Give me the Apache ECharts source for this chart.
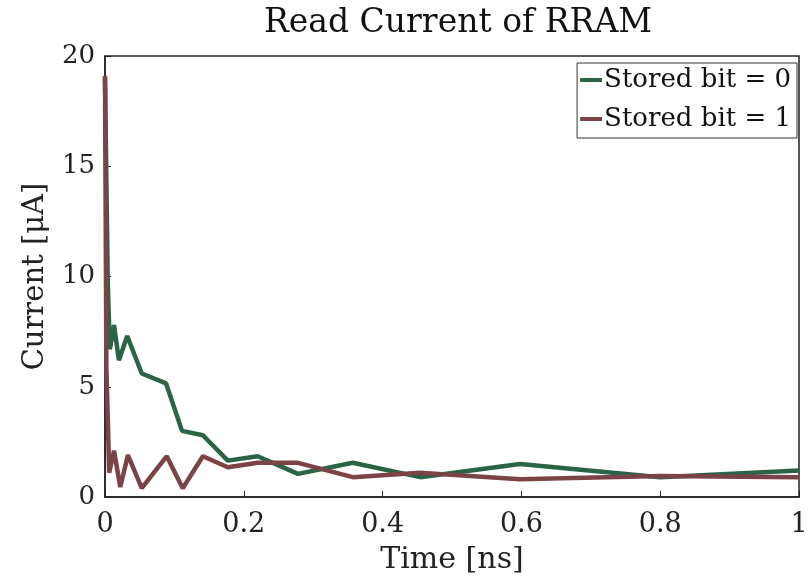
<!DOCTYPE html>
<html lang="en">
<head>
    <meta charset="UTF-8">
    <title>Read Current of RRAM</title>
    <script type="text/javascript" src="https://cdn.jsdelivr.net/npm/echarts@6/dist/echarts.min.js"></script>
    <style>
        html, body { margin: 0; padding: 0; background: #fff; }
        #chart { width: 811px; height: 586px; }
    </style>
</head>
<body>
<div id="chart"></div>
<script>
    // time in ns, current in uA
    var timeBit0 = [0, 0.004, 0.007, 0.013, 0.02, 0.032, 0.053, 0.088, 0.111, 0.141, 0.177, 0.22, 0.278, 0.357, 0.454, 0.598, 0.8, 1.0];
    var currentBit0 = [19.0, 9.7, 6.7, 7.8, 6.2, 7.3, 5.6, 5.15, 3.0, 2.8, 1.65, 1.85, 1.05, 1.55, 0.9, 1.5, 0.9, 1.2];
    var timeBit1 = [0, 0.002, 0.004, 0.006, 0.013, 0.022, 0.033, 0.053, 0.089, 0.112, 0.141, 0.177, 0.22, 0.278, 0.357, 0.454, 0.598, 0.8, 1.0];
    var currentBit1 = [19.1, 5.8, 3.6, 1.1, 2.1, 0.45, 1.9, 0.4, 1.85, 0.4, 1.85, 1.35, 1.55, 1.55, 0.9, 1.1, 0.8, 0.95, 0.9];
    var seriesNames = ['Stored bit = 0', 'Stored bit = 1'];
    var xTicks = [0, 0.2, 0.4, 0.6, 0.8, 1];
    var yTicks = [0, 5, 10, 15, 20];

    function pairs(xs, ys) {
        return xs.map(function (x, i) { return [x, ys[i]]; });
    }

    var font = '"DejaVu Serif", "Liberation Serif", serif';
    var mychart = echarts.init(document.getElementById('chart'));
    var option = {
        animation: false,
        title: {
            text: 'Read Current of RRAM',
            left: 453, top: 2, textAlign: 'center',
            textStyle: { fontFamily: font, fontSize: 33, fontWeight: 'normal', color: '#111' }
        },
        grid: {
            left: 105, top: 56, right: 12, bottom: 89,
            show: true, borderColor: '#222', borderWidth: 1.5
        },
        legend: {
            data: seriesNames,
            orient: 'vertical',
            right: 14, top: 63,
            icon: 'rect',
            itemWidth: 22, itemHeight: 4, itemGap: 13,
            backgroundColor: '#fff',
            borderColor: '#333', borderWidth: 1,
            padding: [4, 6, 6, 3],
            textStyle: { fontFamily: font, fontSize: 26, color: '#111', padding: [0, 0, 0, -3] }
        },
        xAxis: {
            type: 'value', min: 0, max: 1, interval: 0.2,
            name: 'Time [ns]', nameLocation: 'middle', nameGap: 48,
            nameTextStyle: { fontFamily: font, fontSize: 30, color: '#222' },
            axisLine: { lineStyle: { color: '#222', width: 1.5 } },
            axisTick: { inside: true, length: 6, lineStyle: { color: '#222' } },
            splitLine: { show: false },
            axisLabel: {
                fontFamily: font, fontSize: 27, color: '#222', margin: 14,
                formatter: function (v) { return xTicks.indexOf(+v.toFixed(1)) >= 0 ? String(+v.toFixed(1)) : ''; }
            }
        },
        yAxis: {
            type: 'value', min: 0, max: 20, interval: 5,
            name: 'Current [\u03bcA]', nameLocation: 'middle', nameGap: 55,
            nameTextStyle: { fontFamily: font, fontSize: 29, color: '#222' },
            axisLine: { show: true, lineStyle: { color: '#222', width: 1.5 } },
            axisTick: { show: true, inside: true, length: 6, lineStyle: { color: '#222' } },
            splitLine: { show: false },
            axisLabel: {
                fontFamily: font, fontSize: 26, color: '#222', margin: 10,
                formatter: function (v) { return yTicks.indexOf(v) >= 0 ? String(v) : ''; }
            }
        },
        series: [
            {
                name: seriesNames[0], type: 'line', symbol: 'none',
                data: pairs(timeBit0, currentBit0),
                lineStyle: { color: '#2a6445', width: 4.5 },
                itemStyle: { color: '#2a6445' }
            },
            {
                name: seriesNames[1], type: 'line', symbol: 'none',
                data: pairs(timeBit1, currentBit1),
                lineStyle: { color: '#7a4446', width: 4.5 },
                itemStyle: { color: '#7a4446' }
            }
        ]
    };
    mychart.setOption(option);
</script>
</body>
</html>
